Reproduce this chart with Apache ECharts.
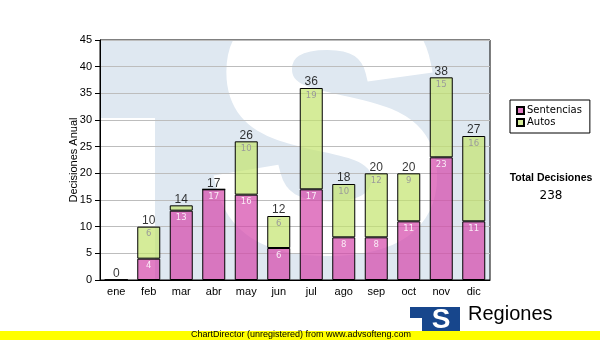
<!DOCTYPE html>
<html>
<head>
<meta charset="utf-8">
<script src="https://cdn.jsdelivr.net/npm/echarts@6/dist/echarts.min.js"></script>
<style>
  html, body { margin: 0; padding: 0; background: #fff; }
  #chart { width: 600px; height: 340px; }
</style>
</head>
<body>
<div id="chart"></div>
<script>
// Monthly decisions, split by type
const meses = ['ene', 'feb', 'mar', 'abr', 'may', 'jun', 'jul', 'ago', 'sep', 'oct', 'nov', 'dic'];
const sentencias = [0, 4, 13, 17, 16, 6, 17, 8, 8, 11, 23, 11];
const autos = [0, 6, 1, 0, 10, 6, 19, 10, 12, 9, 15, 16];
const totales = [0, 10, 14, 17, 26, 12, 36, 18, 20, 20, 38, 27];
const totalDecisiones = '238';

const chart = echarts.init(document.getElementById('chart'), null, { renderer: 'canvas' });

const ARIAL = "'Liberation Sans', Arial, sans-serif";
const VERD = "'DejaVu Sans', Verdana, sans-serif";

// Inner segment label: hidden for tiny segments and zeros
const innerLabel = (p) => (p.value >= 2 ? String(p.value) : '');

const option = {
  animation: false,
  backgroundColor: '#ffffff',
  grid: {
    left: 100, top: 40, width: 390, height: 240,
    show: true, borderColor: '#000', borderWidth: 1, backgroundColor: 'transparent'
  },
  legend: {
    data: ['Sentencias', 'Autos'],
    orient: 'vertical',
    left: 510, top: 100,
    padding: [5, 8, 5, 6],
    itemWidth: 7, itemHeight: 7, itemGap: 1,
    icon: 'rect',
    borderColor: '#000', borderWidth: 1,
    backgroundColor: '#fff',
    textStyle: { fontFamily: VERD, fontSize: 10, color: '#000', lineHeight: 11, padding: [0, 0, 0, -2] }
  },
  xAxis: {
    type: 'category',
    data: meses,
    axisLine: { lineStyle: { color: '#000', width: 1 } },
    axisTick: { alignWithLabel: true, length: 4, lineStyle: { color: '#000' } },
    axisLabel: { color: '#000', fontFamily: ARIAL, fontSize: 11, margin: 6 }
  },
  yAxis: {
    type: 'value',
    min: 0, max: 45, interval: 5,
    name: 'Decisiones Anual',
    nameLocation: 'middle',
    nameGap: 21,
    nameMoveOverlap: false,
    nameTextStyle: { color: '#000', fontFamily: ARIAL, fontSize: 11 },
    axisLine: { show: true, lineStyle: { color: '#000', width: 1 } },
    axisTick: { show: true, length: 5, lineStyle: { color: '#000' } },
    axisLabel: { color: '#000', fontFamily: ARIAL, fontSize: 11, margin: 8 },
    splitLine: { lineStyle: { color: '#bdbdbd', width: 1 } }
  },
  series: [
    {
      name: 'Sentencias', type: 'bar', stack: 'dec', barWidth: 23,
      data: sentencias,
      itemStyle: { color: 'rgba(212,70,170,0.7)', borderColor: '#000', borderWidth: 1 },
      label: {
        show: true, position: 'insideTop', distance: 3, formatter: innerLabel,
        color: 'rgba(255,255,255,0.85)', fontFamily: VERD, fontSize: 8.5
      },
      z: 3
    },
    {
      name: 'Autos', type: 'bar', stack: 'dec', barWidth: 23,
      data: autos,
      itemStyle: { color: 'rgba(195,228,110,0.7)', borderColor: '#000', borderWidth: 1 },
      label: {
        show: true, position: 'insideTop', distance: 3, formatter: innerLabel,
        color: '#9a9a9a', fontFamily: VERD, fontSize: 8.5
      },
      z: 3
    },
    {
      name: 'Total', type: 'scatter',
      data: totales,
      symbolSize: 0,
      itemStyle: { color: 'transparent' },
      label: {
        show: true, position: 'top', distance: 0,
        color: '#000', fontFamily: ARIAL, fontSize: 12, lineHeight: 12
      },
      z: 4
    }
  ],
  graphic: [
    // light emblem behind the plot: blue panel, white notch and a large white "S"
    { type: 'rect', silent: true, z: -10, shape: { x: 100, y: 40, width: 390, height: 240 }, style: { fill: '#dfe8f1' } },
    { type: 'rect', silent: true, z: -9, shape: { x: 100, y: 118, width: 55, height: 162 }, style: { fill: '#fff' } },
    {
      type: 'text', silent: true, z: -9, x: 328, y: 150,
      style: {
        text: 'S', fill: '#fff', stroke: '#fff', lineWidth: 18,
        font: "bold 340px 'Liberation Sans', Arial, sans-serif",
        align: 'center', verticalAlign: 'middle'
      }
    },
    // totals block
    {
      type: 'text', x: 551, y: 178,
      style: { text: 'Total Decisiones', fill: '#000', font: "bold 10.5px 'Liberation Sans', Arial, sans-serif", align: 'center', verticalAlign: 'middle' }
    },
    {
      type: 'text', x: 551, y: 196,
      style: { text: totalDecisiones, fill: '#000', font: "12px 'DejaVu Sans', Verdana, sans-serif", align: 'center', verticalAlign: 'middle' }
    },
    // logo at the bottom right
    { type: 'rect', z: 5, shape: { x: 410, y: 307, width: 50, height: 26 }, style: { fill: '#17468c' } },
    { type: 'rect', z: 6, shape: { x: 410, y: 318, width: 12, height: 15 }, style: { fill: '#fff' } },
    {
      type: 'text', z: 7, x: 441, y: 320,
      style: { text: 'S', fill: '#fff', font: "bold 28px 'Liberation Sans', Arial, sans-serif", align: 'center', verticalAlign: 'middle' }
    },
    {
      type: 'text', z: 7, left: 468, top: 304,
      style: { text: 'Regiones', fill: '#000', font: "20px 'Liberation Sans', Arial, sans-serif" }
    },
    // footer strip
    { type: 'rect', z: 20, shape: { x: 0, y: 331, width: 600, height: 9 }, style: { fill: '#ffff00' } },
    {
      type: 'text', z: 21, left: 191, top: 330,
      style: { text: 'ChartDirector (unregistered) from www.advsofteng.com', fill: '#000', font: "9px 'Liberation Sans', Arial, sans-serif" }
    }
  ]
};

chart.setOption(option);
</script>
</body>
</html>
